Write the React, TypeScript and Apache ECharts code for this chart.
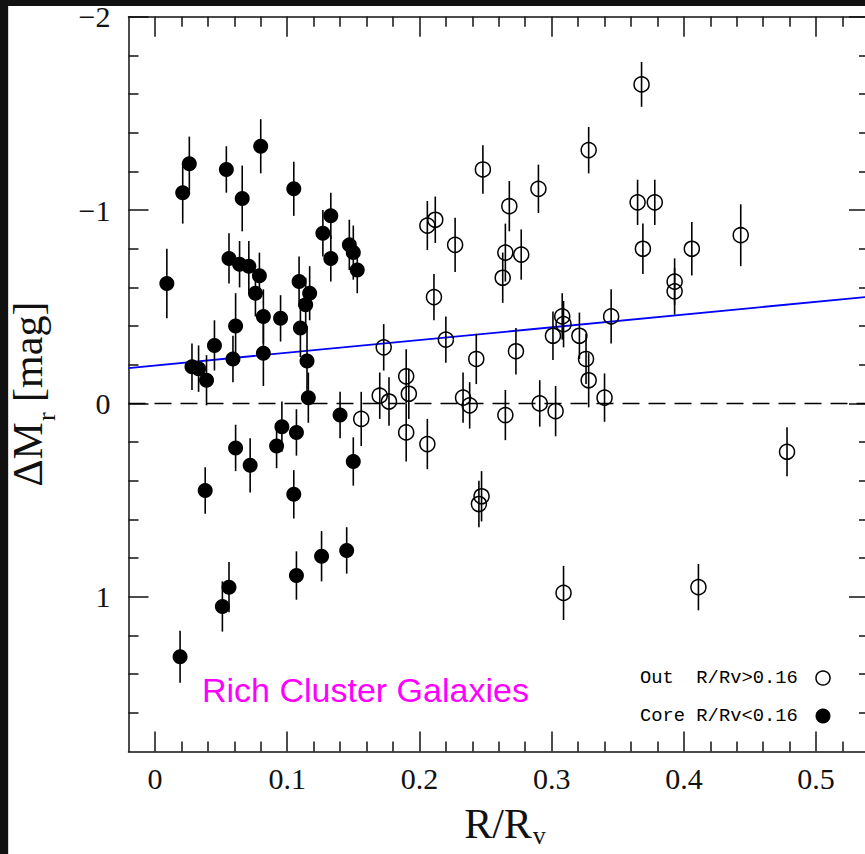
import React, { useEffect, useRef } from "react";
import * as echarts from "echarts";

// Core galaxies (R/Rv < 0.16): radius, magnitude offset, 1-sigma error
const coreR = [0.009, 0.021, 0.026, 0.054, 0.066, 0.080, 0.105, 0.056, 0.064, 0.071, 0.079, 0.076, 0.127, 0.133, 0.133, 0.147, 0.150, 0.153, 0.082, 0.095, 0.109, 0.117, 0.114, 0.110, 0.115, 0.116, 0.061, 0.045, 0.059, 0.082, 0.028, 0.033, 0.039, 0.140, 0.096, 0.107, 0.092, 0.061, 0.072, 0.038, 0.150, 0.105, 0.107, 0.126, 0.145, 0.056, 0.051, 0.019];
const coreDM = [-0.62, -1.09, -1.24, -1.21, -1.06, -1.33, -1.11, -0.75, -0.72, -0.71, -0.66, -0.57, -0.88, -0.97, -0.75, -0.82, -0.78, -0.69, -0.45, -0.44, -0.63, -0.57, -0.51, -0.39, -0.22, -0.03, -0.40, -0.30, -0.23, -0.26, -0.19, -0.18, -0.12, 0.06, 0.12, 0.15, 0.22, 0.23, 0.32, 0.45, 0.30, 0.47, 0.89, 0.79, 0.76, 0.95, 1.05, 1.31];
const coreErr = [0.18, 0.16, 0.14, 0.12, 0.17, 0.14, 0.14, 0.13, 0.12, 0.13, 0.12, 0.12, 0.12, 0.12, 0.12, 0.13, 0.14, 0.12, 0.14, 0.12, 0.13, 0.14, 0.14, 0.15, 0.18, 0.13, 0.17, 0.13, 0.12, 0.17, 0.12, 0.12, 0.13, 0.12, 0.13, 0.12, 0.115, 0.12, 0.14, 0.12, 0.125, 0.125, 0.125, 0.13, 0.12, 0.13, 0.13, 0.135];

// Outer galaxies (R/Rv > 0.16)
const outR = [0.156, 0.170, 0.177, 0.192, 0.190, 0.190, 0.173, 0.211, 0.220, 0.243, 0.273, 0.263, 0.265, 0.277, 0.301, 0.308, 0.309, 0.321, 0.206, 0.233, 0.238, 0.265, 0.291, 0.303, 0.326, 0.328, 0.340, 0.345, 0.393, 0.393, 0.478, 0.411, 0.368, 0.328, 0.365, 0.378, 0.369, 0.406, 0.443, 0.248, 0.290, 0.268, 0.206, 0.212, 0.227, 0.247, 0.245, 0.309];
const outDM = [0.08, -0.04, -0.01, -0.05, 0.15, -0.14, -0.29, -0.55, -0.33, -0.23, -0.27, -0.65, -0.78, -0.77, -0.35, -0.45, -0.41, -0.35, 0.21, -0.03, 0.01, 0.06, 0.00, 0.04, -0.23, -0.12, -0.03, -0.45, -0.58, -0.63, 0.25, 0.95, -1.65, -1.31, -1.04, -1.04, -0.80, -0.80, -0.87, -1.21, -1.11, -1.02, -0.92, -0.95, -0.82, 0.48, 0.52, 0.98];
const outErr = [0.14, 0.12, 0.125, 0.13, 0.15, 0.14, 0.12, 0.12, 0.12, 0.13, 0.12, 0.13, 0.15, 0.13, 0.125, 0.12, 0.12, 0.12, 0.13, 0.13, 0.12, 0.13, 0.12, 0.13, 0.13, 0.14, 0.125, 0.14, 0.12, 0.12, 0.127, 0.12, 0.116, 0.12, 0.117, 0.117, 0.13, 0.138, 0.16, 0.125, 0.125, 0.13, 0.127, 0.12, 0.14, 0.13, 0.12, 0.14];

// Linear trend end points
const fitR = [-0.02, 0.54];
const fitDM = [-0.183, -0.552];

// Axis ranges and ticks
const xRange = [-0.02, 0.54];
const yRange = [-2, 1.8];
const xMajorTicks = [0, 0.1, 0.2, 0.3, 0.4, 0.5];
const xMinorTicks = [0.02, 0.04, 0.06, 0.08, 0.12, 0.14, 0.16, 0.18, 0.22, 0.24, 0.26, 0.28, 0.32, 0.34, 0.36, 0.38, 0.42, 0.44, 0.46, 0.48, 0.52];
const yMajorTicks = [-2, -1, 0, 1];
const yMinorTicks = [-1.8, -1.6, -1.4, -1.2, -0.8, -0.6, -0.4, -0.2, 0.2, 0.4, 0.6, 0.8, 1.2, 1.4, 1.6];

const SERIF = "'Liberation Serif', 'DejaVu Serif', serif";
const MONO = "'Liberation Mono', 'DejaVu Sans Mono', monospace";
const SANS = "'Liberation Sans', Arial, sans-serif";
const INK = "#111";

const tickStyle = { color: INK, width: 1.5 };

function axisLine(show: boolean) {
  return { show, onZero: false, lineStyle: { color: INK, width: 1.5 } };
}

function xAxisDef(position: string, major: boolean, withLabels: boolean) {
  return {
    type: "value",
    position,
    min: xRange[0],
    max: xRange[1],
    splitLine: { show: false },
    axisLine: axisLine(major),
    axisTick: {
      show: true,
      inside: true,
      length: major ? 20 : 10,
      customValues: major ? xMajorTicks : xMinorTicks,
      lineStyle: tickStyle,
    },
    axisLabel: withLabels
      ? {
          show: true,
          customValues: xMajorTicks,
          margin: 12,
          fontFamily: SERIF,
          fontSize: 30,
          color: INK,
          formatter: (v: number) => String(v),
        }
      : { show: false },
  };
}

function yAxisDef(position: string, major: boolean, withLabels: boolean) {
  return {
    type: "value",
    position,
    inverse: true,
    min: yRange[0],
    max: yRange[1],
    splitLine: { show: false },
    axisLine: axisLine(major),
    axisTick: {
      show: true,
      inside: true,
      length: major ? 20 : 10,
      customValues: major ? yMajorTicks : yMinorTicks,
      lineStyle: tickStyle,
    },
    axisLabel: withLabels
      ? {
          show: true,
          customValues: yMajorTicks,
          margin: 18,
          fontFamily: SERIF,
          fontSize: 30,
          color: INK,
          formatter: (v: number) => (v < 0 ? "\u2212" + Math.abs(v) : String(v)),
        }
      : { show: false },
  };
}

function errorBarSeries(r: number[], dm: number[], err: number[]) {
  return {
    type: "custom",
    silent: true,
    z: 2,
    data: r.map((x, i) => [x, dm[i], err[i]]),
    renderItem: (_params: any, api: any) => {
      const x = api.value(0);
      const y = api.value(1);
      const e = api.value(2);
      const p1 = api.coord([x, y - e]);
      const p2 = api.coord([x, y + e]);
      return {
        type: "line",
        shape: { x1: p1[0], y1: p1[1], x2: p2[0], y2: p2[1] },
        style: { stroke: "#000", lineWidth: 1.6 },
      };
    },
  };
}

// axis titles: 42px main text, subscript pushed below the baseline via top padding
function titleRich(drop: number) {
  return {
    m: { fontFamily: SERIF, fontSize: 42, lineHeight: 42, verticalAlign: "top", fill: INK },
    s: { fontFamily: SERIF, fontSize: 26, lineHeight: drop + 26, verticalAlign: "top", padding: [drop, 0, 0, 1], fill: INK },
  };
}

export default function App() {
  const ref = useRef<HTMLDivElement>(null);

  useEffect(() => {
    if (!ref.current) return;
    const chart = echarts.init(ref.current, undefined, { renderer: "svg" });

    const option = {
      animation: false,
      backgroundColor: "#fff",
      grid: { left: 128.5, right: 11, top: 16.7, bottom: 102.5, containLabel: false },
      xAxis: [
        xAxisDef("bottom", true, true),
        xAxisDef("bottom", false, false),
        xAxisDef("top", true, false),
        xAxisDef("top", false, false),
      ],
      yAxis: [
        yAxisDef("left", true, true),
        yAxisDef("left", false, false),
        yAxisDef("right", true, false),
        yAxisDef("right", false, false),
      ],
      series: [
        {
          type: "line",
          silent: true,
          z: 1,
          symbol: "none",
          data: [
            [xRange[0], 0],
            [xRange[1], 0],
          ],
          lineStyle: { color: "#000", width: 1.6, type: [17, 9] },
        },
        {
          type: "line",
          silent: true,
          z: 1,
          symbol: "none",
          data: fitR.map((x, i) => [x, fitDM[i]]),
          lineStyle: { color: "#0000ff", width: 1.8 },
        },
        errorBarSeries(coreR, coreDM, coreErr),
        errorBarSeries(outR, outDM, outErr),
        {
          type: "scatter",
          silent: true,
          z: 3,
          symbol: "circle",
          symbolSize: 15,
          data: outR.map((x, i) => [x, outDM[i]]),
          itemStyle: { color: "transparent", borderColor: "#000", borderWidth: 1.5, opacity: 1 },
        },
        {
          type: "scatter",
          silent: true,
          z: 3,
          symbol: "circle",
          symbolSize: 15,
          data: coreR.map((x, i) => [x, coreDM[i]]),
          itemStyle: { color: "#000", opacity: 1 },
        },
      ],
      graphic: [
        { type: "rect", z: 100, shape: { x: 0, y: 0, width: 880, height: 6 }, style: { fill: "#111" } },
        { type: "rect", z: 100, shape: { x: 0, y: 0, width: 8, height: 854 }, style: { fill: "#111" } },
        { type: "rect", z: 100, shape: { x: 8, y: 6, width: 1, height: 848 }, style: { fill: "#d8d8d8" } },
        {
          type: "text",
          x: 202,
          y: 690,
          style: {
            text: "Rich Cluster Galaxies",
            fill: "#ff00ff",
            fontFamily: SANS,
            fontSize: 34,
            align: "left",
            verticalAlign: "middle",
          },
        },
        {
          type: "text",
          x: 640,
          y: 678,
          style: {
            text: "Out  R/Rv>0.16",
            fill: "#000",
            fontFamily: MONO,
            fontSize: 18.8,
            align: "left",
            verticalAlign: "middle",
          },
        },
        {
          type: "text",
          x: 640,
          y: 716,
          style: {
            text: "Core R/Rv<0.16",
            fill: "#000",
            fontFamily: MONO,
            fontSize: 18.8,
            align: "left",
            verticalAlign: "middle",
          },
        },
        {
          type: "circle",
          shape: { cx: 823, cy: 678, r: 7 },
          style: { fill: "none", stroke: "#000", lineWidth: 1.5 },
        },
        {
          type: "circle",
          shape: { cx: 823, cy: 716, r: 7.5 },
          style: { fill: "#000" },
        },
        {
          type: "text",
          x: 33,
          y: 394,
          rotation: Math.PI / 2,
          style: {
            text: "{m|\u0394M}{s|r}{m| [mag]}",
            fill: INK,
            align: "center",
            verticalAlign: "middle",
            rich: titleRich(26),
          },
        },
        {
          type: "text",
          x: 505,
          y: 803,
          style: {
            text: "{m|R/R}{s|v}",
            fill: INK,
            align: "center",
            verticalAlign: "top",
            rich: titleRich(19),
          },
        },
      ],
    };

    chart.setOption(option as any);
    return () => chart.dispose();
  }, []);

  return (
    <div
      style={{
        position: "fixed",
        left: 0,
        top: 0,
        width: 865,
        height: 854,
        overflow: "hidden",
        background: "#fff",
      }}
    >
      <div ref={ref} style={{ width: 880, height: 854 }} />
    </div>
  );
}
